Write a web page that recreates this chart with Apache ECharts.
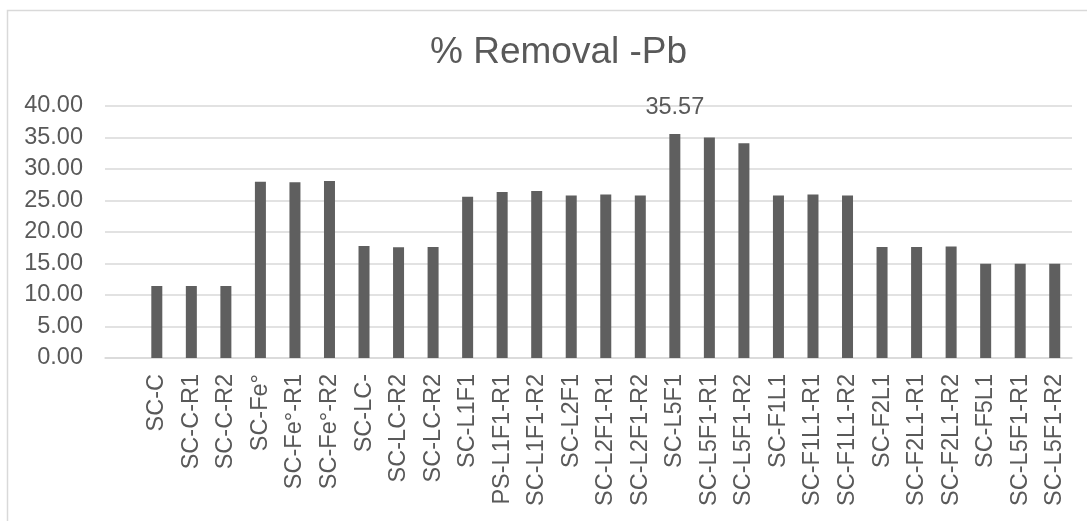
<!DOCTYPE html>
<html>
<head>
<meta charset="utf-8">
<script src="https://cdn.jsdelivr.net/npm/echarts@6/dist/echarts.min.js"></script>
<style>
  html, body { margin: 0; padding: 0; background: #fff; }
  #chart { width: 1087px; height: 521px; }
</style>
</head>
<body>
<div id="chart"></div>
<script>
// 类目（第一个空位对应图中左侧的空白）
const categories = ['', 'SC-C', 'SC-C-R1', 'SC-C-R2', 'SC-Fe°', 'SC-Fe°-R1', 'SC-Fe°-R2',
  'SC-LC-', 'SC-LC-R2', 'SC-LC-R2', 'SC-L1F1', 'PS-L1F1-R1', 'SC-L1F1-R2',
  'SC-L2F1', 'SC-L2F1-R1', 'SC-L2F1-R2', 'SC-L5F1', 'SC-L5F1-R1', 'SC-L5F1-R2',
  'SC-F1L1', 'SC-F1L1-R1', 'SC-F1L1-R2', 'SC-F2L1', 'SC-F2L1-R1', 'SC-F2L1-R2',
  'SC-F5L1', 'SC-L5F1-R1', 'SC-L5F1-R2'];

// % 去除率 (Pb)
const removal = [null, 11.43, 11.43, 11.43, 27.98, 27.88, 28.10,
  17.78, 17.57, 17.60, 25.60, 26.35, 26.50,
  25.80, 25.95, 25.80, 35.57, 35.00, 34.07,
  25.80, 25.95, 25.80, 17.60, 17.60, 17.70,
  14.97, 14.97, 14.97];

// 只标注最大值
const labelledIndex = [16];

const yTicks = { min: 0, max: 40, interval: 5 };

const chart = echarts.init(document.getElementById('chart'));

const textColor = '#595959';
const lineColor = '#d9d9d9';
const labelSize = 23.5;

const option = {
  backgroundColor: '#fff',
  animation: false,
  title: {
    text: '% Removal -Pb',
    left: 425,
    top: 29,
    textStyle: { fontFamily: 'Liberation Sans', fontSize: 37, fontWeight: 'normal', color: textColor }
  },
  graphic: [{
    type: 'rect',
    shape: { x: 7.5, y: 10.5, width: 1100, height: 600 },
    style: { fill: 'none', stroke: lineColor, lineWidth: 1.5 },
    silent: true
  }],
  grid: { left: 105, right: 15, top: 106, bottom: 163 },
  xAxis: {
    type: 'category',
    data: categories,
    axisLine: { lineStyle: { color: lineColor, width: 1.5 } },
    axisTick: { show: false },
    axisLabel: {
      interval: 0,
      rotate: 90,
      margin: 16,
      color: textColor,
      fontFamily: 'Liberation Sans',
      fontSize: labelSize
    }
  },
  yAxis: {
    type: 'value',
    min: yTicks.min,
    max: yTicks.max,
    interval: yTicks.interval,
    axisLine: { show: false },
    axisTick: { show: false },
    splitLine: { lineStyle: { color: lineColor, width: 1.5 } },
    axisLabel: {
      margin: 22,
      color: textColor,
      fontFamily: 'Liberation Sans',
      fontSize: labelSize,
      formatter: v => v.toFixed(2)
    }
  },
  series: [{
    type: 'bar',
    barWidth: 11,
    itemStyle: { color: '#5f5f5f' },
    data: removal.map((v, i) => labelledIndex.includes(i) ? {
      value: v,
      label: {
        show: true,
        position: 'top',
        distance: 14,
        color: textColor,
        fontFamily: 'Liberation Sans',
        fontSize: labelSize,
        formatter: p => p.value.toFixed(2)
      }
    } : v)
  }]
};

chart.setOption(option);
window.addEventListener('resize', () => chart.resize());
</script>
</body>
</html>
